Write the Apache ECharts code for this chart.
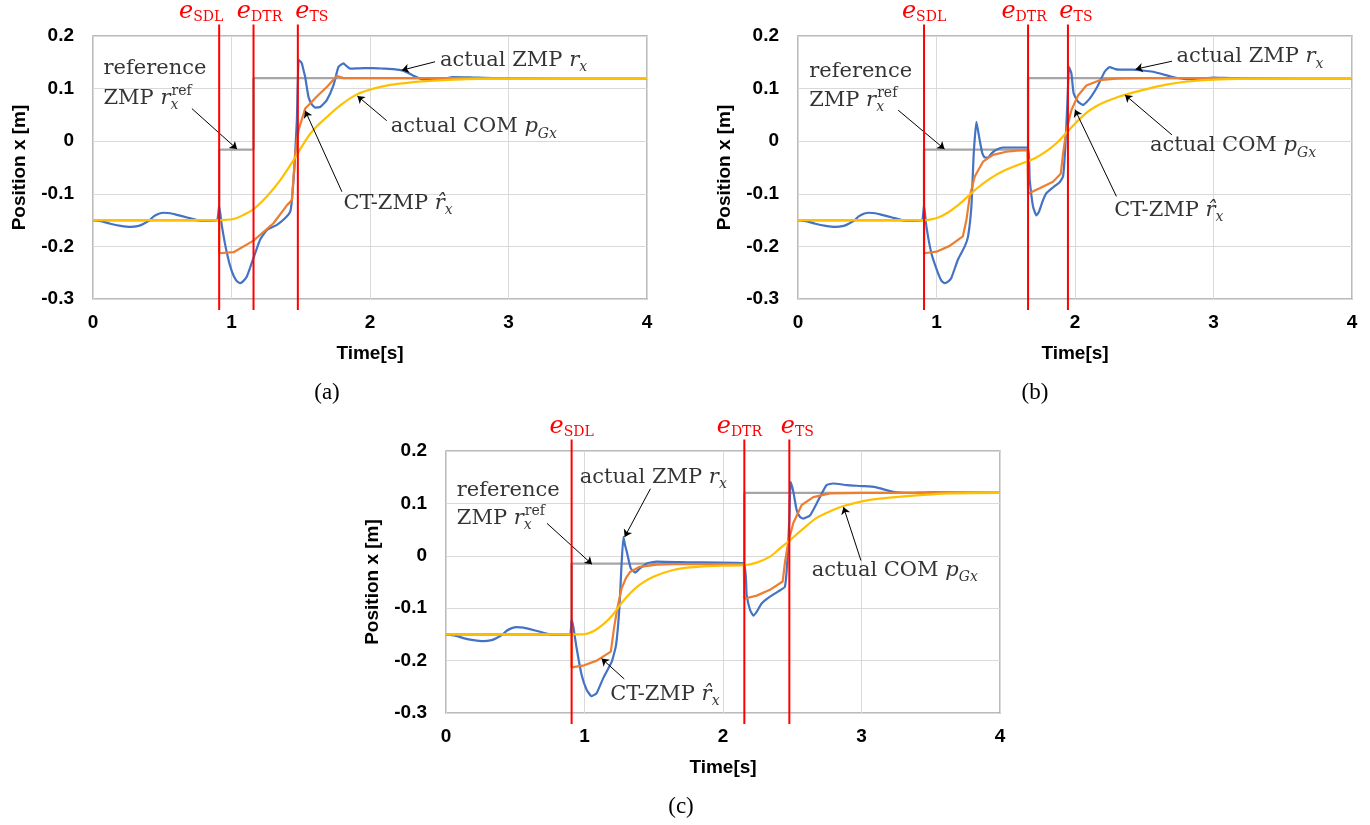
<!DOCTYPE html>
<html>
<head>
<meta charset="utf-8">
<script src="https://cdn.jsdelivr.net/npm/echarts@6/dist/echarts.min.js"></script>
<style>
html, body { margin: 0; padding: 0; background: #fff; }
#main { width: 1370px; height: 825px; }
</style>
</head>
<body>
<div id="main"></div>
<script>
// event lines (time [s]) for each panel
var eventNames = ['SDL', 'DTR', 'TS'];
var eventsA = [0.911, 1.159, 1.479];
var eventsB = [0.91, 1.661, 1.949];
var eventsC = [0.907, 2.154, 2.479];

// reference ZMP (step)
var refA = [[0, -0.15], [0.911, -0.15], [0.911, -0.016], [1.159, -0.016], [1.159, 0.12], [4, 0.12]];
var refB = [[0, -0.15], [0.91, -0.15], [0.91, -0.016], [1.661, -0.016], [1.661, 0.12], [4, 0.12]];
var refC = [[0, -0.15], [0.907, -0.15], [0.907, -0.015], [2.154, -0.015], [2.154, 0.12], [4, 0.12]];

// common start of actual ZMP (before first event)
var zmpStart = [[0, -0.15], [0.06, -0.152], [0.125, -0.157], [0.2, -0.161], [0.269, -0.163], [0.33, -0.161],
    [0.366, -0.157], [0.41, -0.15], [0.438, -0.143], [0.475, -0.138], [0.51, -0.136], [0.56, -0.137],
    [0.606, -0.14], [0.68, -0.145], [0.75, -0.15], [0.82, -0.151], [0.895, -0.15]];

// actual ZMP r_x
var zmpA = zmpStart.concat([[0.911, -0.123], [0.931, -0.162], [0.967, -0.213], [1.003, -0.248], [1.035, -0.265],
    [1.063, -0.27], [1.085, -0.266], [1.111, -0.257], [1.135, -0.24], [1.159, -0.222], [1.207, -0.187],
    [1.255, -0.169], [1.328, -0.159], [1.388, -0.146], [1.424, -0.134], [1.436, -0.112], [1.453, -0.055],
    [1.472, 0.04], [1.484, 0.154], [1.496, 0.152], [1.508, 0.148], [1.52, 0.135], [1.532, 0.122],
    [1.556, 0.084], [1.58, 0.07], [1.604, 0.064], [1.64, 0.065], [1.688, 0.078], [1.736, 0.106],
    [1.772, 0.141], [1.808, 0.148], [1.83, 0.143], [1.857, 0.138], [1.952, 0.139], [2.02, 0.139],
    [2.097, 0.138], [2.17, 0.137], [2.24, 0.134], [2.31, 0.125], [2.385, 0.117], [2.5, 0.117],
    [2.6, 0.122], [2.75, 0.121], [2.9, 0.12], [4, 0.12]]);
var zmpB = zmpStart.concat([[0.91, -0.123], [0.927, -0.162], [0.963, -0.213], [1.011, -0.251], [1.035, -0.265],
    [1.059, -0.27], [1.083, -0.267], [1.107, -0.26], [1.155, -0.225], [1.204, -0.2], [1.228, -0.181],
    [1.252, -0.124], [1.269, -0.023], [1.288, 0.037], [1.3, 0.02], [1.312, 0.002], [1.33, -0.022],
    [1.348, -0.031], [1.372, -0.031], [1.395, -0.024], [1.42, -0.018], [1.48, -0.012], [1.656, -0.012],
    [1.673, -0.074], [1.697, -0.124], [1.721, -0.141], [1.74, -0.134], [1.757, -0.121], [1.769, -0.112],
    [1.793, -0.099], [1.841, -0.088], [1.889, -0.078], [1.914, -0.067], [1.93, -0.011], [1.945, 0.072],
    [1.957, 0.141], [1.974, 0.129], [1.99, 0.091], [2.022, 0.075], [2.058, 0.069], [2.106, 0.081],
    [2.166, 0.106], [2.214, 0.132], [2.25, 0.141], [2.29, 0.137], [2.322, 0.136], [2.418, 0.136],
    [2.563, 0.132], [2.707, 0.122], [2.803, 0.118], [2.9, 0.119], [3.0, 0.121], [3.15, 0.12], [4, 0.12]]);
var zmpC = zmpStart.concat([[0.907, -0.122], [0.919, -0.135], [0.943, -0.176], [0.979, -0.227], [1.016, -0.256],
    [1.052, -0.268], [1.088, -0.262], [1.136, -0.233], [1.197, -0.202], [1.228, -0.17], [1.252, -0.1],
    [1.266, -0.024], [1.281, 0.036], [1.293, 0.02], [1.305, 0.008], [1.334, -0.024], [1.365, -0.032],
    [1.4, -0.024], [1.449, -0.0145], [1.521, -0.011], [1.762, -0.0125], [2.147, -0.0145], [2.171, -0.075],
    [2.195, -0.103], [2.219, -0.114], [2.243, -0.107], [2.279, -0.091], [2.339, -0.078], [2.399, -0.068],
    [2.447, -0.059], [2.464, -0.011], [2.479, 0.071], [2.488, 0.141], [2.508, 0.122], [2.532, 0.087],
    [2.556, 0.074], [2.58, 0.071], [2.628, 0.077], [2.688, 0.106], [2.748, 0.135], [2.796, 0.138],
    [2.893, 0.135], [3.01, 0.133], [3.1, 0.131], [3.23, 0.122], [3.35, 0.12], [3.5, 0.121], [4, 0.12]]);

// CT-ZMP
var ctA = [[0, -0.15], [0.911, -0.15], [0.911, -0.213], [1.015, -0.211], [1.159, -0.189], [1.303, -0.156],
    [1.40, -0.122], [1.436, -0.112], [1.46, -0.023], [1.484, 0.021], [1.532, 0.062], [1.58, 0.075],
    [1.616, 0.085], [1.688, 0.103], [1.761, 0.124], [1.81, 0.12], [2.5, 0.12], [4, 0.12]];
var ctB = [[0, -0.15], [0.91, -0.15], [0.91, -0.213], [1.0, -0.21], [1.095, -0.199], [1.19, -0.181],
    [1.216, -0.15], [1.24, -0.105], [1.276, -0.067], [1.336, -0.039], [1.408, -0.026], [1.504, -0.02],
    [1.58, -0.018], [1.656, -0.017], [1.661, -0.10], [1.745, -0.0895], [1.841, -0.077], [1.897, -0.062],
    [1.914, -0.023], [1.938, 0.021], [1.974, 0.059], [2.022, 0.087], [2.082, 0.106], [2.178, 0.116],
    [2.298, 0.119], [2.5, 0.12], [4, 0.12]];
var ctC = [[0, -0.15], [0.907, -0.15], [0.907, -0.213], [0.998, -0.209], [1.088, -0.2], [1.19, -0.183],
    [1.213, -0.138], [1.237, -0.1], [1.268, -0.062], [1.30, -0.042], [1.328, -0.031], [1.4, -0.021],
    [1.52, -0.017], [1.641, -0.016], [2.15, -0.016], [2.154, -0.082], [2.243, -0.076], [2.339, -0.065],
    [2.431, -0.049], [2.448, -0.011], [2.472, 0.027], [2.507, 0.062], [2.568, 0.097], [2.652, 0.112],
    [2.773, 0.119], [3.0, 0.12], [4, 0.12]];

// actual COM p_Gx
var comA = [[0, -0.15], [0.9, -0.15], [0.95, -0.1495], [1.015, -0.148], [1.08, -0.141], [1.159, -0.129],
    [1.255, -0.105], [1.352, -0.074], [1.448, -0.036], [1.544, 0.005], [1.6, 0.024], [1.664, 0.04],
    [1.785, 0.068], [1.905, 0.089], [2.025, 0.1], [2.145, 0.107], [2.3, 0.112], [2.46, 0.115],
    [2.7, 0.118], [3.0, 0.119], [3.4, 0.12], [4, 0.12]];
var comB = [[0, -0.15], [0.9, -0.15], [0.95, -0.149], [1.022, -0.144], [1.08, -0.136], [1.144, -0.124],
    [1.24, -0.102], [1.30, -0.088], [1.36, -0.076], [1.43, -0.064], [1.505, -0.054], [1.58, -0.046],
    [1.649, -0.039], [1.72, -0.031], [1.794, -0.019], [1.87, -0.003], [1.938, 0.016], [2.01, 0.036],
    [2.082, 0.054], [2.15, 0.066], [2.227, 0.076], [2.3, 0.083], [2.371, 0.089], [2.516, 0.099],
    [2.65, 0.107], [2.8, 0.113], [3.0, 0.117], [3.3, 0.119], [3.6, 0.12], [4, 0.12]];
var comC = [[0, -0.15], [0.95, -0.15], [0.998, -0.1497], [1.07, -0.143], [1.143, -0.129], [1.203, -0.113],
    [1.256, -0.094], [1.328, -0.072], [1.4, -0.055], [1.497, -0.04], [1.641, -0.027], [1.786, -0.0215],
    [1.978, -0.019], [2.147, -0.018], [2.243, -0.013], [2.339, -0.0015], [2.411, 0.014], [2.484, 0.03],
    [2.58, 0.052], [2.676, 0.0724], [2.773, 0.085], [2.869, 0.095], [2.965, 0.1016], [3.1, 0.108],
    [3.33, 0.114], [3.64, 0.119], [4, 0.12]];

// annotation texts (rich text)
var txtRef1 = '{t|reference}';
var txtRef2 = '{t|ZMP }{i|r}{sbz|x}{sp|ref}';
var txtZmp = '{t|actual ZMP }{i|r}{sb|x}';
var txtCom = '{t|actual COM }{i|p}{sb|Gx}';
var txtCt = '{t|CT-ZMP }{i|r\u0302}{sb|x}';

// annotation anchors [x, y, text] and arrows [from, to]
var notesA = [[0.076, 0.138, txtRef1], [0.076, 0.081, txtRef2], [2.506, 0.154, txtZmp], [2.15, 0.027, txtCom], [1.808, -0.119, txtCt]];
var arrowsA = [[[0.714, 0.062], [1.04, -0.015]], [[1.797, -0.096], [1.532, 0.058]], [[2.121, 0.039], [1.909, 0.086]], [[2.47, 0.151], [2.23, 0.135]]];
var notesB = [[0.081, 0.132, txtRef1], [0.081, 0.078, txtRef2], [2.733, 0.16, txtZmp], [2.541, -0.009, txtCom], [2.283, -0.132, txtCt]];
var arrowsB = [[[0.723, 0.059], [1.058, -0.015]], [[2.7, 0.152], [2.438, 0.137]], [[2.7, 0.012], [2.361, 0.088]], [[2.299, -0.105], [2.0, 0.06]]];
var notesC = [[0.078, 0.125, txtRef1], [0.078, 0.071, txtRef2], [0.966, 0.15, txtZmp], [1.186, -0.265, txtCt], [2.64, -0.0285, txtCom]];
var arrowsC = [[[0.729, 0.062], [1.054, -0.016]], [[1.476, 0.128], [1.29, 0.036]], [[1.287, -0.235], [1.123, -0.196]], [[2.996, -0.009], [2.87, 0.093]]];

var serif = '"DejaVu Serif", "Noto Serif", serif';
var sans = 'Liberation Sans';
var rich = {
    t: { fontFamily: serif, fontSize: 21, lineHeight: 28, color: '#000' },
    i: { fontFamily: serif, fontStyle: 'italic', fontSize: 21, lineHeight: 28, color: '#000' },
    sb: { fontFamily: serif, fontStyle: 'italic', fontSize: 14, lineHeight: 14, verticalAlign: 'bottom', color: '#000' },
    sbz: { fontFamily: serif, fontStyle: 'italic', fontSize: 14, lineHeight: 14, verticalAlign: 'bottom', width: 1, color: '#000' },
    sp: { fontFamily: serif, fontSize: 14, lineHeight: 14, verticalAlign: 'top', color: '#000' },
    e: { fontFamily: serif, fontStyle: 'italic', fontSize: 24, lineHeight: 26, color: '#ff0000' },
    es: { fontFamily: serif, fontSize: 14, lineHeight: 13, verticalAlign: 'bottom', color: '#ff0000' }
};

var grids = [
    { left: 93, top: 36, width: 554, height: 263 },
    { left: 798, top: 36, width: 554, height: 263 },
    { left: 446, top: 451, width: 554, height: 262 }
];

function panel(k, ref, zmp, ct, com, events, shifts, notes, arrows) {
    var list = [];
    function line(data, color, width, smooth) {
        return {
            type: 'line', xAxisIndex: k, yAxisIndex: k, data: data,
            showSymbol: false, silent: true, animation: false, smooth: smooth,
            lineStyle: { color: color, width: width }
        };
    }
    list.push(line(ref, '#a5a5a5', 2.4, false));
    list.push(line(zmp, '#4472c4', 2.2, 0.15));
    list.push(line(ct, '#ed7d31', 2.2, false));
    list.push(line(com, '#ffc000', 2.2, 0.3));
    events.forEach(function (t, j) {
        list.push({
            type: 'line', xAxisIndex: k, yAxisIndex: k, clip: false, z: 5,
            silent: true, animation: false, symbol: 'circle', symbolSize: 0, showSymbol: true,
            lineStyle: { color: '#ff0000', width: 2 },
            data: [[t, -0.321], {
                value: [t, 0.222],
                label: {
                    show: true, position: 'top', distance: 0, offset: [shifts[j], 0],
                    formatter: '{e|e}{es|' + eventNames[j] + '}', rich: rich
                }
            }]
        });
    });
    list.push({
        type: 'scatter', xAxisIndex: k, yAxisIndex: k, symbolSize: 0, z: 6,
        silent: true, animation: false,
        label: { show: true, position: 'right', distance: 0, rich: rich },
        data: notes.map(function (n) {
            return { value: [n[0], n[1]], label: { formatter: n[2] } };
        }),
        markLine: {
            silent: true, animation: false,
            symbol: ['none', 'arrow'], symbolSize: 7,
            lineStyle: { color: '#000', width: 1, type: 'solid' },
            label: { show: false },
            emphasis: { disabled: true },
            data: arrows.map(function (a) {
                return [{ coord: a[0] }, { coord: a[1] }];
            })
        }
    });
    return list;
}

var xAxes = [], yAxes = [];
for (var k = 0; k < 3; k++) {
    xAxes.push({
        type: 'value', gridIndex: k, min: 0, max: 4, interval: 1,
        axisLine: { show: false }, axisTick: { show: false },
        splitLine: { lineStyle: { color: '#d9d9d9', width: 1 } },
        axisLabel: { color: '#000', fontFamily: sans, fontWeight: 'bold', fontSize: 19, margin: 14 },
        name: 'Time[s]', nameLocation: 'middle', nameGap: 45,
        nameTextStyle: { color: '#000', fontFamily: sans, fontWeight: 'bold', fontSize: 19 }
    });
    yAxes.push({
        type: 'value', gridIndex: k, min: -0.3, max: 0.2, interval: 0.1,
        axisLine: { show: false }, axisTick: { show: false },
        splitLine: { lineStyle: { color: '#d9d9d9', width: 1 } },
        axisLabel: {
            color: '#000', fontFamily: sans, fontWeight: 'bold', fontSize: 19, margin: 19,
            formatter: function (v) { return String(+v.toFixed(1)); }
        },
        name: 'Position x [m]', nameLocation: 'middle', nameGap: 64,
        nameTextStyle: { color: '#000', fontFamily: sans, fontWeight: 'bold', fontSize: 19 }
    });
}

var series = []
    .concat(panel(0, refA, zmpA, ctA, comA, eventsA, [-18, 6, 14], notesA, arrowsA))
    .concat(panel(1, refB, zmpB, ctB, comB, eventsB, [0, -4, 8], notesB, arrowsB))
    .concat(panel(2, refC, zmpC, ctC, comC, eventsC, [0, -5, 8], notesC, arrowsC));

var captions = [['(a)', 327, 393], ['(b)', 1035, 393], ['(c)', 681, 807]];

var myChart = echarts.init(document.getElementById('main'));
var option = {
    backgroundColor: '#fff',
    animation: false,
    grid: grids.map(function (g) {
        return Object.assign({ show: true, borderColor: '#a5a5a5', borderWidth: 1.5, backgroundColor: 'transparent' }, g);
    }),
    xAxis: xAxes,
    yAxis: yAxes,
    series: series,
    graphic: captions.map(function (c) {
        return {
            type: 'text', x: c[1], y: c[2],
            style: { text: c[0], font: '23px "Liberation Serif"', fill: '#000', align: 'center', verticalAlign: 'middle' }
        };
    })
};
myChart.setOption(option);
window.addEventListener('resize', function () {
    myChart.resize();
});
</script>
</body>
</html>
